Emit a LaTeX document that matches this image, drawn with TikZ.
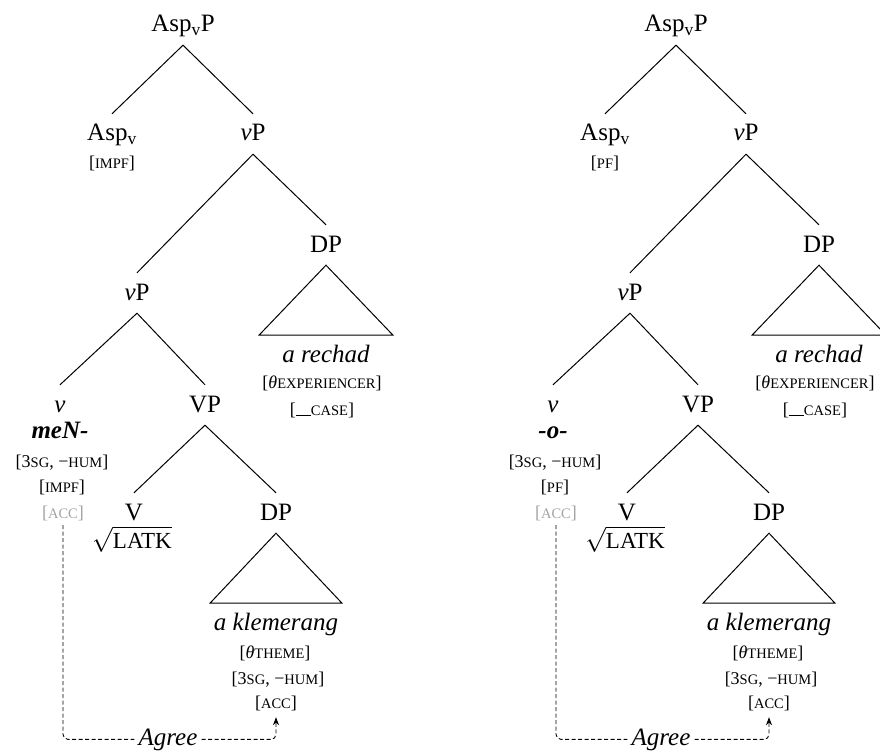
\documentclass[tikz,border=0pt]{standalone}
\usepackage{fontspec}
\setmainfont{Liberation Serif}
\usetikzlibrary{arrows.meta}
\definecolor{accgray}{HTML}{A3A3A3}
\newcommand\fsc[1]{{\fontsize{14.5}{14.5}\selectfont #1}}
\newcommand\blankline{\rule[-0.5pt]{15pt}{0.7pt}}
\newcommand\rootsign[1]{$\sqrt{\hbox{#1}}$}
\tikzset{
  cat/.style={anchor=base, font=\fontsize{25}{25}\selectfont, text height=20pt, text depth=6pt, inner xsep=1pt, inner ysep=7pt},
  feat/.style={anchor=base, font=\fontsize{18}{18}\selectfont, text depth=4pt, inner sep=3pt},
  leaf/.style={anchor=base, font=\fontsize{25}{25}\selectfont\itshape, inner sep=2pt},
  morph/.style={anchor=base, font=\fontsize{25}{25}\selectfont\bfseries\itshape, inner sep=2pt},
  agreenode/.style={anchor=base, font=\fontsize{25}{25}\selectfont\itshape, inner xsep=4pt, inner ysep=1pt},
  branch/.style={line width=1pt},
  agreeline/.style={line width=0.9pt, dash pattern=on 4pt off 2.5pt, rounded corners=5pt},
}
% #1 prefix, #2 xshift, #3 Asp feature, #4 morpheme, #5 second feature
\newcommand\mytree[5]{%
\begin{scope}[xshift=#2]
  \node[cat] (#1root) at (183,32) {Asp\textsubscript{v}P};
  \node[cat] (#1asp) at (112,141) {Asp\textsubscript{v}};
  \node[feat] (#1aspf) at (112,169) {[\fsc{#3}]};
  \node[cat] (#1vpa) at (253,141) {\textit{v}P};
  \node[cat] (#1dpa) at (326,252) {DP};
  \node[cat] (#1vpb) at (137,300) {\textit{v}P};
  \node[leaf] (#1rechad) at (326,362) {a rechad};
  \node[feat] (#1exp) at (322,388) {[\textit{θ}\fsc{EXPERIENCER}]};
  \node[feat] (#1case) at (322,415) {[\blankline\fsc{CASE}]};
  \node[cat] (#1v) at (60,412) {\textit{v}};
  \node[morph] (#1morph) at (60,438) {#4};
  \node[feat] (#1phi) at (62,467) {[3\fsc{SG}, −\fsc{HUM}]};
  \node[feat] (#1aspg) at (62,492) {[\fsc{#5}]};
  \node[feat, text=accgray] (#1uacc) at (63,518) {[\fsc{ACC}]};
  \node[cat] (#1VP) at (205,412) {VP};
  \node[cat] (#1V) at (134,520) {V};
  \node[anchor=base, font=\fontsize{23}{23}\selectfont, inner sep=2pt] (#1latk) at (132,548) {\rootsign{LATK}};
  \node[cat] (#1dpb) at (276,520) {DP};
  \node[leaf] (#1klem) at (276,630) {a klemerang};
  \node[feat] (#1theme) at (275,658) {[\textit{θ}\fsc{THEME}]};
  \node[feat] (#1phib) at (278,684) {[3\fsc{SG}, −\fsc{HUM}]};
  \node[feat] (#1acc) at (276,708) {[\fsc{ACC}]};
  \node[agreenode] (#1agree) at (168,745) {Agree};
  \draw[branch] (#1root.south) -- (#1asp.north);
  \draw[branch] (#1root.south) -- (#1vpa.north);
  \draw[branch] (#1vpa.south) -- (#1vpb.north);
  \draw[branch] (#1vpa.south) -- (#1dpa.north);
  \draw[branch] (#1dpa.south) -- ++(-67,70) -- ++(134,0) -- cycle;
  \draw[branch] (#1vpb.south) -- (#1v.north);
  \draw[branch] (#1vpb.south) -- (#1VP.north);
  \draw[branch] (#1VP.south) -- (#1V.north);
  \draw[branch] (#1VP.south) -- (#1dpb.north);
  \draw[branch] (#1dpb.south) -- ++(-66,70) -- ++(132,0) -- cycle;
  \draw[agreeline] (#1uacc.south) |- (#1agree.west);
  \draw[agreeline, -{Stealth[length=8pt,width=6pt]}] (#1agree.east) -| ([yshift=-2pt]#1acc.south);
\end{scope}}
\begin{document}
\begin{tikzpicture}[x=1pt, y=-1pt]
  \useasboundingbox (0,0) rectangle (880,751);
  \mytree{L}{0pt}{IMPF}{meN-}{IMPF}
  \mytree{R}{493pt}{PF}{-o-}{PF}
\end{tikzpicture}
\end{document}
